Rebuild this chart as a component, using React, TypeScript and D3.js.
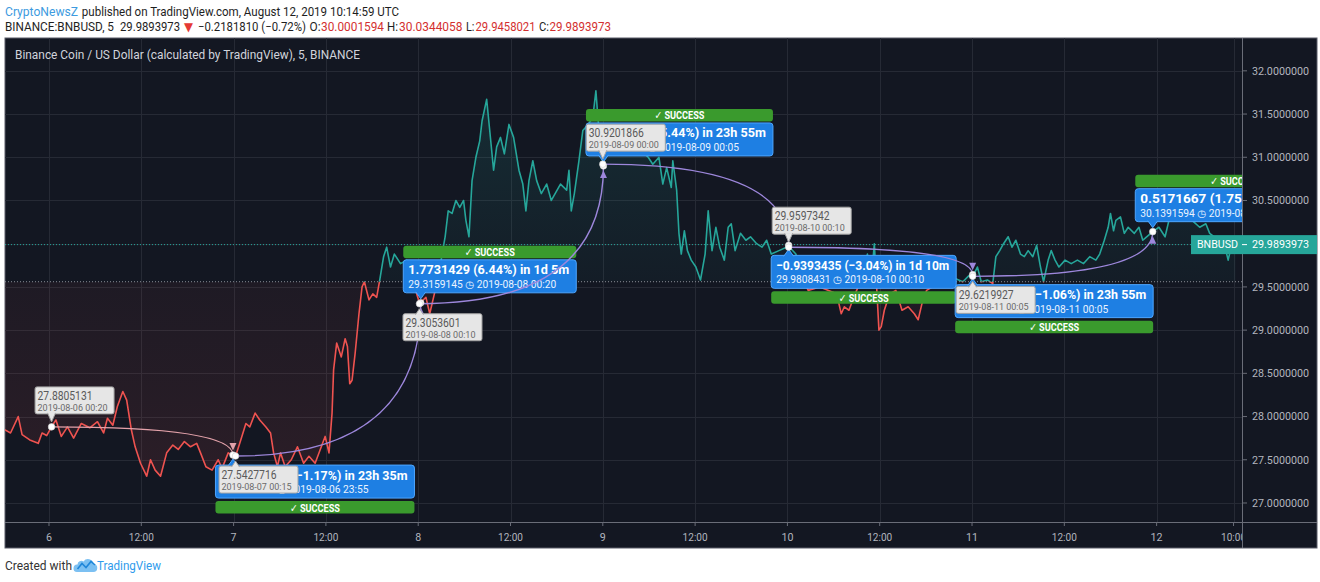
import React from "react";
import * as d3 from "d3";

// ---------- data ----------
const START_UTC = Date.UTC(2019, 7, 6, 0, 0, 0); // 2019-08-06 00:00 UTC

// hours after 2019-08-06 00:00 (5-min BNBUSD, sampled by eye)
const hours: number[] = [
  -5.8, -5.0, -4.0, -3.5, -2.5, -1.4, -0.9, -0.3, 0.33, 0.9,
  1.6, 2.4, 3.2, 4.2, 5.3, 6.3, 7.1, 7.6, 8.3, 8.9,
  9.6, 10.1, 10.7, 11.2, 11.9, 12.7, 13.2, 13.8, 14.5, 15.3,
  16.1, 16.8, 17.6, 18.4, 19.2, 19.7, 20.4, 21.2, 22.0, 22.5,
  23.3, 23.9, 24.25, 24.8, 25.6, 26.1, 26.8, 27.4, 28.2, 28.8,
  29.2, 29.7, 30.1, 30.7, 31.5, 32.3, 33.1, 33.8, 34.6, 35.4,
  35.9, 36.4, 36.8, 37.0, 37.4, 38.0, 38.5, 38.8, 39.1, 39.4,
  39.8, 40.3, 40.7, 41.0, 41.6, 42.1, 42.6, 43.0, 43.5, 43.9,
  44.4, 44.9, 45.7, 46.5, 47.2, 47.7, 48.17, 48.33, 49.0, 49.5,
  50.1, 50.6, 51.1, 51.5, 51.9, 52.4, 52.9, 53.4, 53.9, 54.2,
  54.6, 55.0, 55.5, 56.0, 56.3, 56.9, 57.3, 57.8, 58.2, 58.7,
  59.2, 59.8, 60.4, 61.1, 61.6, 62.0, 62.4, 62.9, 63.4, 64.0,
  64.7, 65.3, 65.8, 66.5, 67.3, 67.6, 67.9, 68.3, 68.9, 69.4,
  70.1, 70.7, 71.1, 71.4, 72.0, 72.6, 73.7, 74.8, 75.8, 76.9,
  77.9, 78.5, 79.3, 79.8, 80.3, 80.9, 81.1, 81.6, 81.9, 82.2,
  82.6, 83.0, 83.5, 84.1, 84.7, 85.3, 85.7, 86.2, 86.7, 87.2,
  87.8, 88.3, 88.7, 89.2, 89.9, 90.6, 91.2, 92.0, 92.7, 93.3,
  93.9, 94.9, 96.17, 97.1, 98.1, 98.7, 100.2, 102.4, 103.0, 103.4,
  104.0, 104.8, 105.6, 106.4, 106.9, 107.3, 107.6, 107.9, 108.2, 108.6,
  109.3, 110.1, 110.9, 111.7, 112.5, 113.0, 113.5, 114.1, 115.6, 117.2,
  118.8, 119.6, 120.08, 120.7, 121.2, 122.0, 122.7, 123.1, 123.6, 124.1,
  124.7, 125.2, 125.7, 126.3, 126.8, 127.3, 127.9, 128.4, 128.9, 129.3,
  129.9, 130.3, 130.8, 131.3, 132.1, 132.9, 133.7, 134.5, 135.3, 136.1,
  136.6, 137.2, 137.7, 138.0, 138.4, 138.7, 139.3, 139.8, 140.3, 141.1,
  141.7, 142.2, 142.7, 143.5, 144.3, 145.1, 145.6, 147.0, 148.6, 149.6,
  150.4, 150.9, 151.5, 152.0, 152.9, 153.3, 153.5, 153.9, 154.25,
];

const prices: number[] = [
  27.85, 27.81, 28.0, 27.79, 27.73, 27.69, 27.81, 27.78, 27.88, 27.96,
  27.77, 27.88, 27.75, 27.92, 27.87, 27.94, 27.81, 27.98, 27.9, 28.12,
  28.29, 28.19, 27.85, 27.65, 27.46, 27.31, 27.5, 27.38, 27.31, 27.58,
  27.67, 27.62, 27.71, 27.65, 27.69, 27.58, 27.42, 27.38, 27.5, 27.4,
  27.58, 27.55, 27.54, 27.69, 27.92, 27.88, 28.04, 27.96, 27.88, 27.81,
  27.58, 27.42, 27.58, 27.42, 27.5, 27.65, 27.46, 27.54, 27.46, 27.65,
  27.77, 27.58, 28.04, 28.54, 28.85, 28.69, 28.9, 28.81, 28.38, 28.42,
  28.73, 29.19, 29.5, 29.56, 29.35, 29.42, 29.38, 29.58, 29.85, 29.96,
  29.73, 29.88, 29.77, 29.81, 29.65, 29.45, 29.31, 29.32, 29.38, 29.19,
  29.42, 29.58, 29.88, 30.08, 30.38, 30.35, 30.5, 30.42, 30.5, 30.27,
  30.08, 30.73, 31.0, 31.19, 31.42, 31.67, 31.31, 30.85, 31.12, 31.23,
  31.04, 31.38, 31.23, 30.85, 30.69, 30.38, 30.73, 30.96, 30.73, 30.58,
  30.69, 30.5, 30.58, 30.69, 30.62, 30.85, 30.38, 30.58, 30.96, 31.31,
  31.38, 31.46, 31.77, 31.42, 30.92, 31.12, 31.15, 31.04, 31.19, 31.08,
  31.0, 30.92, 31.0, 30.69, 30.88, 30.65, 30.96, 30.62, 30.12, 29.88,
  30.15, 29.92, 29.81, 29.73, 29.58, 29.88, 30.38, 29.92, 30.19, 29.96,
  29.81, 30.19, 30.23, 29.92, 30.12, 30.04, 30.08, 30.0, 29.96, 30.04,
  29.88, 29.92, 29.97, 29.88, 29.58, 29.46, 29.5, 29.42, 29.19, 29.27,
  29.23, 29.42, 29.58, 29.88, 29.58, 30.0, 29.5, 29.0, 29.04, 29.23,
  29.42, 29.46, 29.23, 29.27, 29.19, 29.12, 29.31, 29.46, 29.54, 29.62,
  29.56, 29.63, 29.62, 29.73, 29.56, 29.58, 29.54, 29.85, 29.92, 30.0,
  30.08, 29.96, 30.04, 29.88, 29.85, 29.92, 29.85, 29.98, 29.73, 29.56,
  29.81, 29.92, 29.81, 29.73, 29.81, 29.77, 29.81, 29.77, 29.85, 29.81,
  29.88, 30.04, 30.19, 30.35, 30.15, 30.27, 30.31, 30.12, 30.19, 30.12,
  30.19, 30.04, 30.08, 30.14, 30.19, 30.08, 30.27, 30.31, 30.27, 30.19,
  30.23, 30.12, 30.08, 30.02, 29.96, 29.81, 29.89, 30.0, 29.99,
];

const baselinePrice = 29.56;
const lastPrice = 29.9893973;
const symbolName = "BNBUSD";

const priceTicks = [27, 27.5, 28, 28.5, 29, 29.5, 30, 30.5, 31, 31.5, 32];
const timeTickHours = [0, 12, 24, 36, 48, 60, 72, 84, 96, 108, 120, 132, 144, 154];
const timeTickLabels = ["6", "12:00", "7", "12:00", "8", "12:00", "9", "12:00", "10", "12:00", "11", "12:00", "12", "10:00"];
const viewHours = [-5.72, 155.1];
const viewPrices = [26.78, 32.38];

// forecast drawings (minutes after 2019-08-06 00:00)
const fcStartMinutes = [20, 1455, 2890, 4320, 5770, 7205];
const fcStartPrices = [27.8805131, 27.5427716, 29.3053601, 30.9201866, 29.9597342, 29.6219927];
const fcEndMinutes = [1435, 2900, 4325, 5770, 7205, 8610];
const fcEndPrices = [27.5542716, 29.3159145, 30.8995866, 29.9808431, 29.6421611, 30.1391594];
const fcStatus = ["SUCCESS", "SUCCESS", "SUCCESS", "SUCCESS", "SUCCESS", "SUCCESS"];

const headerLine1 = [
  { text: "CryptoNewsZ", x: 5, w: 73, color: "#3d9be0" },
  { text: " published on TradingView.com, August 12, 2019 10:14:59 UTC", x: 79, w: 320, color: "#1e1e1e" },
];
const headerLine2 = [
  { text: "BINANCE:BNBUSD, 5", x: 5, w: 109, color: "#1e1e1e" },
  { text: "29.9893973", x: 120, w: 60, color: "#1e1e1e" },
  { text: "▼", x: 184, w: 9, color: "#e53935" },
  { text: "−0.2181810 (−0.72%)", x: 198, w: 108, color: "#1e1e1e" },
  { text: "O:", x: 309.5, w: 11, color: "#1e1e1e" },
  { text: "30.0001594", x: 321, w: 63, color: "#d32f2f" },
  { text: "H:", x: 387, w: 11, color: "#1e1e1e" },
  { text: "30.0344058", x: 399, w: 63.5, color: "#d32f2f" },
  { text: "L:", x: 466, w: 8.5, color: "#1e1e1e" },
  { text: "29.9458021", x: 475.5, w: 60, color: "#d32f2f" },
  { text: "C:", x: 539, w: 10, color: "#1e1e1e" },
  { text: "29.9893973", x: 549.5, w: 61.5, color: "#d32f2f" },
];
const titleText = "Binance Coin / US Dollar (calculated by TradingView), 5, BINANCE";

// ---------- component ----------
export default function App() {
  const W = 1320, H = 582;
  const L = 5, R = 1242, T = 38, B = 522, PR = 1317, PB = 548;
  const FONT = "'Liberation Sans Narrow', Roboto, 'DejaVu Sans', sans-serif";
  const BG = "#131722";
  const GRID = "#262a35";
  const AXIS = "#6a6d78";
  const AXIS_TEXT = "#b2b5be";
  const TEAL = "#26a69a";
  const RED = "#ef5350";
  const PURPLE = "#9d87dc";
  const PINK = "#e3a2aa";
  const BLUE = "#1e7fe3";
  const BLUE_EDGE = "#4ea6ff";
  const GREEN = "#3a9a2d";

  const toDate = (h: number) => new Date(START_UTC + h * 3600000);
  const minDate = (m: number) => new Date(START_UTC + m * 60000);
  const x = d3.scaleUtc().domain(viewHours.map(toDate)).range([L, R]);
  const y = d3.scaleLinear().domain(viewPrices).range([B, T]);

  const idx = d3.range(hours.length);
  const px = (i: number) => x(toDate(hours[i]));
  const py = (i: number) => y(prices[i]);
  const yBase = y(baselinePrice);
  const linePath = d3.line<number>().x(px).y(py)(idx) || "";
  const areaPath = d3.area<number>().x(px).y0(yBase).y1(py)(idx) || "";

  const fmtPrice = d3.format(".7f");
  const stamp = d3.utcFormat("%Y-%m-%d %H:%M");
  const stamp2 = d3.utcFormat("%Y-%m-%d  %H:%M");

  const fmtDuration = (m: number) => {
    const d = Math.floor(m / 1440);
    const h = Math.floor((m % 1440) / 60);
    const mm = m % 60;
    const parts: string[] = [];
    if (d > 0) parts.push(`${d}d`);
    if (h > 0) parts.push(`${h}h`);
    if (mm > 0) parts.push(`${mm}m`);
    return parts.join(" ");
  };

  const labelAbove = [true, false, false, true, true, false];
  const boxAbove = [false, true, true, false, false, true];
  const boxW = [199, 173, 187, 185, 198, 200];

  const yLast = y(lastPrice);

  return (
    <div style={{ position: "absolute", left: 0, top: 0 }}>
      <svg width={W} height={H} style={{ display: "block", background: "#ffffff" }} fontFamily={FONT}>
        <defs>
          <clipPath id="plotClip"><rect x={L} y={T} width={R - L} height={B - T} /></clipPath>
          <clipPath id="aboveClip"><rect x={L} y={T} width={R - L} height={yBase - T} /></clipPath>
          <clipPath id="belowClip"><rect x={L} y={yBase} width={R - L} height={B - yBase} /></clipPath>
          <clipPath id="timeClip"><rect x={L} y={B} width={R - L} height={PB - B} /></clipPath>
          <linearGradient id="gUp" gradientUnits="userSpaceOnUse" x1={0} y1={y(31.8)} x2={0} y2={yBase}>
            <stop offset="0" stopColor={TEAL} stopOpacity={0.16} />
            <stop offset="1" stopColor={TEAL} stopOpacity={0.04} />
          </linearGradient>
          <linearGradient id="gDown" gradientUnits="userSpaceOnUse" x1={0} y1={yBase} x2={0} y2={y(27.3)}>
            <stop offset="0" stopColor={RED} stopOpacity={0.05} />
            <stop offset="1" stopColor={RED} stopOpacity={0.11} />
          </linearGradient>
        </defs>

        {/* header */}
        <text y={16} fontSize={12.5}>
          {headerLine1.map((s, i) => (
            <tspan key={i} x={s.x} fill={s.color} textLength={s.w} lengthAdjust="spacingAndGlyphs">{s.text}</tspan>
          ))}
        </text>
        {headerLine2.map((s, i) => (
          <text key={i} x={s.x} y={31} fontSize={12} fill={s.color} textLength={s.w} lengthAdjust="spacingAndGlyphs">{s.text}</text>
        ))}

        {/* panel */}
        <rect x={L} y={T} width={PR - L} height={PB - T} fill={BG} stroke="#5a5d68" strokeWidth={1} />

        {/* grid */}
        <g stroke={GRID} strokeWidth={1}>
          {priceTicks.map((p, i) => (
            <line key={"h" + i} x1={L} x2={R} y1={Math.round(y(p)) + 0.5} y2={Math.round(y(p)) + 0.5} />
          ))}
          {timeTickHours.map((h, i) => (
            <line key={"v" + i} x1={Math.round(x(toDate(h))) + 0.5} x2={Math.round(x(toDate(h))) + 0.5} y1={T} y2={B} />
          ))}
        </g>

        {/* baseline series */}
        <g clipPath="url(#aboveClip)">
          <path d={areaPath} fill="url(#gUp)" />
          <path d={linePath} fill="none" stroke={TEAL} strokeWidth={1.6} strokeLinejoin="round" />
        </g>
        <g clipPath="url(#belowClip)">
          <path d={areaPath} fill="url(#gDown)" />
          <path d={linePath} fill="none" stroke={RED} strokeWidth={1.6} strokeLinejoin="round" />
        </g>

        {/* baseline & last price lines */}
        <line x1={L} x2={R} y1={yBase} y2={yBase} stroke="#8a8d96" strokeWidth={1} strokeDasharray="1 2" />
        <line x1={L} x2={R} y1={yLast} y2={yLast} stroke={TEAL} strokeWidth={1} strokeDasharray="1 2" />

        {/* legend title */}
        <text x={15} y={59} fontSize={12} fill="#d1d4dc" textLength={345} lengthAdjust="spacingAndGlyphs">{titleText}</text>

        {/* forecasts */}
        <g clipPath="url(#plotClip)">
          {fcStartMinutes.map((sm, i) => {
            const xs = x(minDate(sm)), ys = y(fcStartPrices[i]);
            const xe = x(minDate(fcEndMinutes[i])), ye = y(fcEndPrices[i]);
            const color = i === 0 ? PINK : PURPLE;
            const dir = ye > ys ? 1 : -1;
            const arrow = `M${xe},${ye - dir * 4.5}L${xe - 3.5},${ye - dir * 12}L${xe + 3.5},${ye - dir * 12}Z`;
            const lw = 79, lh = 27;
            const lx = xs - 16.5;
            const ly = labelAbove[i] ? ys - 13 - lh : ys + 10;
            const lBase = labelAbove[i] ? ly + lh - 1 : ly + 1;
            const lTip = labelAbove[i] ? ys - 5 : ys + 5;
            const bw = boxW[i], bh = 33;
            const bx = xe - 17.5;
            const by = boxAbove[i] ? ye - 10 - bh : ye + 10;
            const bBase = boxAbove[i] ? by + bh - 1 : by + 1;
            const bTip = boxAbove[i] ? ye - 4 : ye + 4;
            const gy = boxAbove[i] ? by - 14 : by + bh + 3;
            const diff = fcEndPrices[i] - fcStartPrices[i];
            const pct = (diff / fcStartPrices[i]) * 100;
            const sign = diff < 0 ? "−" : "";
            const line1 = `${sign}${fmtPrice(Math.abs(diff))} (${sign}${Math.abs(pct).toFixed(2)}%) in ${fmtDuration(fcEndMinutes[i] - sm)}`;
            const line2 = `${fmtPrice(fcEndPrices[i])}  ◷  ${stamp2(minDate(fcEndMinutes[i]))}`;
            return (
              <g key={i}>
                <path d={`M${xs},${ys}Q${xe},${ys} ${xe},${ye}`} fill="none" stroke={color} strokeWidth={1.4} />
                <path d={arrow} fill={color} />
                {/* start label */}
                <rect x={lx} y={ly} width={lw} height={lh} rx={2} fill="#e6e6e6" stroke="#a3a3a3" strokeWidth={1} />
                <path d={`M${xs - 4},${lBase}L${xs},${lTip}L${xs + 4},${lBase}`} fill="#e6e6e6" stroke="#a3a3a3" strokeWidth={1} />
                <rect x={xs - 3.5} y={labelAbove[i] ? lBase - 1.5 : lBase} width={7} height={1.5} fill="#e6e6e6" />
                <text x={lx + 2.5} y={ly + 13} fontSize={12} fill="#5a5a5a" textLength={55} lengthAdjust="spacingAndGlyphs">{fmtPrice(fcStartPrices[i])}</text>
                <text x={lx + 2.5} y={ly + 24} fontSize={9.5} fill="#6a6a6a" textLength={70} lengthAdjust="spacingAndGlyphs">{stamp(minDate(sm))}</text>
                {/* end box */}
                <rect x={bx} y={by} width={bw} height={bh} rx={3} fill={BLUE} stroke={BLUE_EDGE} strokeWidth={1} />
                <path d={`M${xe - 5},${bBase}L${xe},${bTip}L${xe + 5},${bBase}`} fill={BLUE} stroke={BLUE_EDGE} strokeWidth={1} />
                <rect x={xe - 4.5} y={boxAbove[i] ? bBase - 1.5 : bBase} width={9} height={1.5} fill={BLUE} />
                <text x={bx + 5} y={by + 14.5} fontSize={13.5} fontWeight="bold" fill="#ffffff" textLength={bw - 12} lengthAdjust="spacingAndGlyphs">{line1}</text>
                <text x={bx + 5} y={by + 28} fontSize={10} fill="#eaf3ff" textLength={148} lengthAdjust="spacingAndGlyphs">{line2}</text>
                {/* status bar */}
                <rect x={bx} y={gy} width={bw} height={12.5} rx={3} fill={GREEN} />
                <text x={bx + bw / 2} y={gy + 10.5} fontSize={11} fontWeight="bold" fill="#ffffff" textAnchor="middle" textLength={50} lengthAdjust="spacingAndGlyphs">{`✓ ${fcStatus[i]}`}</text>
              </g>
            );
          })}
          {fcStartMinutes.map((sm, i) => (
            <g key={"d" + i}>
              <circle cx={x(minDate(sm))} cy={y(fcStartPrices[i])} r={3.3} fill="#ffffff" stroke="#cfcfcf" strokeWidth={0.6} />
              <circle cx={x(minDate(fcEndMinutes[i]))} cy={y(fcEndPrices[i])} r={3.3} fill="#ffffff" stroke="#cfcfcf" strokeWidth={0.6} />
            </g>
          ))}
        </g>

        {/* axes separators */}
        <line x1={R + 0.5} x2={R + 0.5} y1={T} y2={PB} stroke={AXIS} strokeWidth={1} />
        <line x1={L} x2={PR} y1={B + 0.5} y2={B + 0.5} stroke={AXIS} strokeWidth={1} />

        {/* price axis */}
        {priceTicks.map((p, i) => (
          <g key={"pt" + i}>
            <line x1={R} x2={R + 5} y1={y(p)} y2={y(p)} stroke={AXIS} strokeWidth={1} />
            <text x={R + 10} y={y(p)} dy="0.35em" fontSize={11} fill={AXIS_TEXT} textLength={57} lengthAdjust="spacingAndGlyphs">{fmtPrice(p)}</text>
          </g>
        ))}

        {/* time axis */}
        <g clipPath="url(#timeClip)">
          {timeTickHours.map((h, i) => {
            const tx = x(toDate(h));
            const lab = timeTickLabels[i];
            return (
              <g key={"tt" + i}>
                <line x1={tx} x2={tx} y1={B} y2={B + 4} stroke={AXIS} strokeWidth={1} />
                <text x={tx} y={541} fontSize={11} fill={AXIS_TEXT} textAnchor="middle"
                  textLength={lab.length > 2 ? 25 : lab.length * 6} lengthAdjust="spacingAndGlyphs">{lab}</text>
              </g>
            );
          })}
        </g>

        {/* last price label */}
        <rect x={1191} y={yLast - 9.5} width={PR - 1191} height={19} fill={TEAL} />
        <text x={1197} y={yLast} dy="0.35em" fontSize={11} fill="#ffffff" textLength={41} lengthAdjust="spacingAndGlyphs">{symbolName}</text>
        <line x1={R} x2={R + 5} y1={yLast} y2={yLast} stroke="#ffffff" strokeWidth={1} />
        <text x={R + 10} y={yLast} dy="0.35em" fontSize={11} fill="#ffffff" textLength={57} lengthAdjust="spacingAndGlyphs">{fmtPrice(lastPrice)}</text>

        {/* footer */}
        <text x={5} y={570} fontSize={12} fill="#333333" textLength={67} lengthAdjust="spacingAndGlyphs">Created with</text>
        <g>
          <path d="M77,572 h16 a4,4 0 0 0 0.5,-8 a5.5,5.5 0 0 0 -10,-2.5 a3.8,3.8 0 0 0 -6,3 a3.5,3.5 0 0 0 -0.5,7.5 z" fill="#7cc0f2" />
          <polyline points="77.5,569 82,563.5 86,567.5 91,561.5 95,565" fill="none" stroke="#1f86d9" strokeWidth={1.6} />
        </g>
        <text x={97} y={570} fontSize={12} fill="#2f9bec" textLength={64} lengthAdjust="spacingAndGlyphs">TradingView</text>
      </svg>
    </div>
  );
}
